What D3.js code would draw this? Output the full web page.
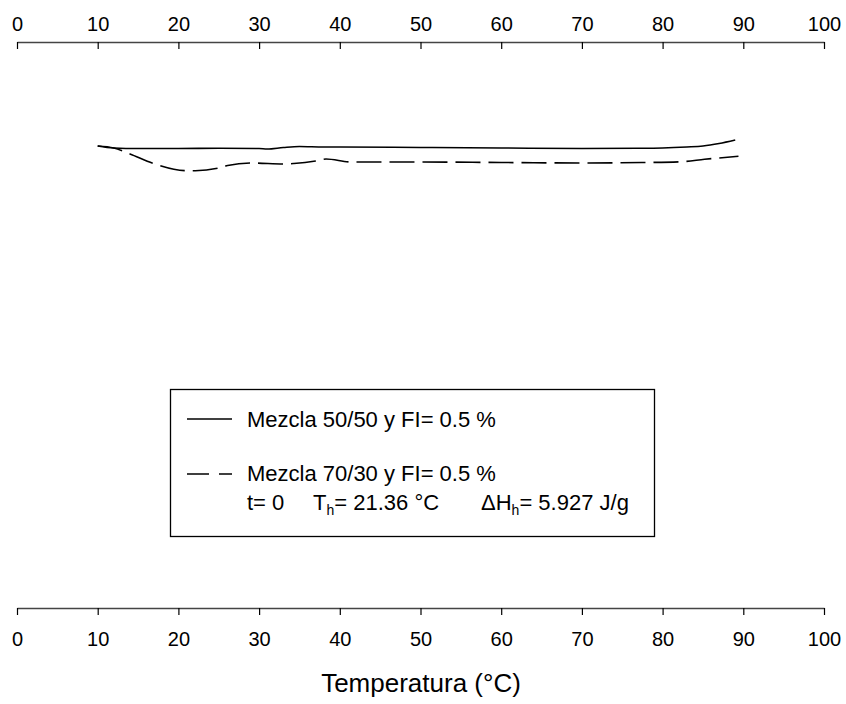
<!DOCTYPE html>
<html lang="es">
<head>
    <meta charset="UTF-8">
    <title>DSC</title>
    <script src="https://cdn.jsdelivr.net/npm/d3@7/dist/d3.min.js"></script>
    <style>
        body { margin: 0; background: #fff; }
        text { font-family: "Liberation Sans", Arial, sans-serif; fill: #000; }
    </style>
</head>
<body>
    <script>
        var w = 846;
        var h = 704;

        // axis ticks
        var tickValues = [0, 10, 20, 30, 40, 50, 60, 70, 80, 90, 100];

        // Mezcla 50/50 (temperature, relative heat flow, arbitrary units)
        var tempA = [10, 12, 15, 20, 25, 30, 31, 33, 35, 38, 40, 50, 60, 70, 77, 80, 83, 85, 87, 89];
        var flowA = [10.4, 10.6, 10.65, 10.65, 10.63, 10.65, 10.7, 10.55, 10.45, 10.5, 10.5, 10.55, 10.6, 10.65, 10.63, 10.6, 10.5, 10.4, 10.15, 9.8];

        // Mezcla 70/30
        var tempB = [10, 12, 14, 17.1, 21.1, 22.1, 25.2, 26.1, 29.2, 33, 34.3, 37, 38.3, 41.4, 50, 60, 70, 77.4, 82.4, 85.2, 89.4];
        var flowB = [10.4, 10.6, 11.2, 12.2, 12.87, 12.87, 12.57, 12.35, 12.1, 12.2, 12.15, 11.9, 11.7, 12.0, 12.0, 12.05, 12.1, 12.05, 11.97, 11.73, 11.43];

        var seriesA = tempA.map(function(t, i) { return [t, flowA[i]]; });
        var seriesB = tempB.map(function(t, i) { return [t, flowB[i]]; });

        var xScale = d3.scaleLinear().domain([0, 100]).range([17, 824]);
        var yScale = d3.scaleLinear().domain([0, 56.6]).range([42, 608]);

        var svg = d3.select('body').append('svg')
            .attr('width', w)
            .attr('height', h);

        // top axis
        var topAxis = d3.axisTop(xScale).tickValues(tickValues).tickSizeOuter(0).tickSizeInner(-7).tickPadding(11);
        var gTop = svg.append('g').attr('transform', 'translate(0,42)').call(topAxis);

        // bottom axis
        var bottomAxis = d3.axisBottom(xScale).tickValues(tickValues).tickSizeOuter(0).tickSizeInner(7).tickPadding(17);
        var gBot = svg.append('g').attr('transform', 'translate(0,608)').call(bottomAxis);

        [gTop, gBot].forEach(function(g) {
            g.select('.domain').attr('stroke', '#444').attr('stroke-width', 1.3);
            g.selectAll('.tick line').attr('stroke', '#000').attr('stroke-width', 1.2);
            g.selectAll('.tick text')
                .attr('font-size', '20px')
                .attr('font-family', '"Liberation Sans", Arial, sans-serif')
                .attr('fill', '#000');
        });

        // axis title
        svg.append('text')
            .attr('x', 421)
            .attr('y', 692)
            .attr('text-anchor', 'middle')
            .attr('font-size', '26px')
            .text('Temperatura (°C)');

        var line = d3.line()
            .x(function(d) { return xScale(d[0]); })
            .y(function(d) { return yScale(d[1]); })
            .curve(d3.curveMonotoneX);

        svg.append('path')
            .datum(seriesA)
            .attr('d', line)
            .attr('fill', 'none')
            .attr('stroke', '#000')
            .attr('stroke-width', 1.6);

        svg.append('path')
            .datum(seriesB)
            .attr('d', line)
            .attr('fill', 'none')
            .attr('stroke', '#000')
            .attr('stroke-width', 1.6)
            .attr('stroke-dasharray', '25,8');

        // legend
        var lg = svg.append('g');
        lg.append('rect')
            .attr('x', 170.5).attr('y', 389.5)
            .attr('width', 484).attr('height', 147)
            .attr('fill', 'none')
            .attr('stroke', '#000')
            .attr('stroke-width', 1.3);

        lg.append('line')
            .attr('x1', 187).attr('x2', 232)
            .attr('y1', 419).attr('y2', 419)
            .attr('stroke', '#000').attr('stroke-width', 1.6);
        lg.append('line')
            .attr('x1', 187).attr('x2', 232)
            .attr('y1', 474).attr('y2', 474)
            .attr('stroke', '#000').attr('stroke-width', 1.6)
            .attr('stroke-dasharray', '22,10');

        lg.append('text').attr('x', 247).attr('y', 427).attr('font-size', '22px')
            .text('Mezcla 50/50 y FI= 0.5 %');
        lg.append('text').attr('x', 247).attr('y', 481).attr('font-size', '22px')
            .text('Mezcla 70/30 y FI= 0.5 %');

        var l3 = lg.append('text').attr('y', 510).attr('font-size', '22px');
        l3.append('tspan').attr('x', 247).text('t= 0');
        l3.append('tspan').attr('x', 313).text('T');
        l3.append('tspan').attr('font-size', '14px').attr('dy', 5).text('h');
        l3.append('tspan').attr('dy', -5).text('= 21.36 °C');
        l3.append('tspan').attr('x', 481).text('ΔH');
        l3.append('tspan').attr('font-size', '14px').attr('dy', 5).text('h');
        l3.append('tspan').attr('dy', -5).text('= 5.927 J/g');
    </script>
</body>
</html>
